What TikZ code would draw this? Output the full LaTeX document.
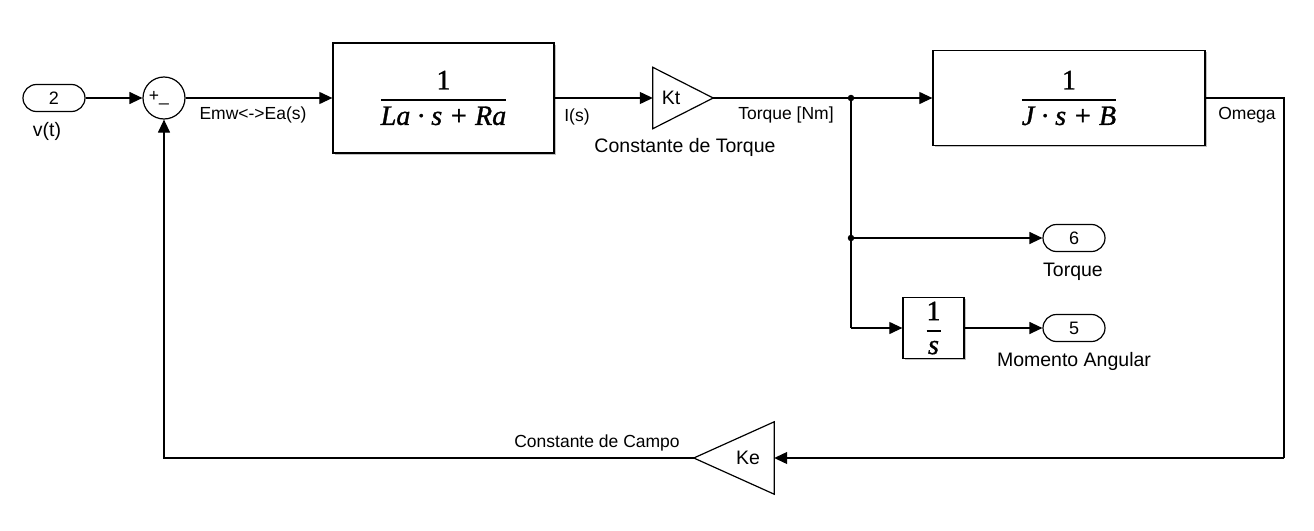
\documentclass[tikz,border=0pt]{standalone}
\usepackage{amsmath}
\usepackage{fontspec}
\setsansfont{Liberation Sans}
\newfontfamily\tfserif[FakeBold=1.2]{Liberation Serif}
\usetikzlibrary{arrows.meta,shapes.misc,shadows}
\newcommand\blkfrac[2]{$\genfrac{}{}{1.9pt}{0}{\text{\tfserif #1}}{\text{\tfserif\itshape #2}}$}
\begin{document}
\begin{tikzpicture}[x=1pt,y=-1pt,
  wire/.style={line width=1.2pt},
  arr/.style={wire,-{Triangle[length=13pt,width=12pt]}},
  blk/.style={draw,fill=white,line width=1.3pt,inner sep=0pt,font=\fontsize{28}{32}\selectfont,
    drop shadow={shadow xshift=1.8pt,shadow yshift=-1.8pt,opacity=0.35,fill=black!70}},
  port/.style={draw,fill=white,rounded rectangle,line width=1.2pt,minimum width=62pt,minimum height=27pt,inner sep=0pt,font=\sffamily\fontsize{18}{20}\selectfont},
  bname/.style={font=\sffamily\fontsize{19.5}{22}\selectfont,inner sep=0pt},
  slabel/.style={font=\sffamily\fontsize{17.5}{20}\selectfont,inner sep=0pt},
  dot/.style={circle,fill=black,inner sep=0pt,minimum size=6.5pt},
  gainbox/.style={inner sep=0pt}
]
\useasboundingbox (0,0) rectangle (1314,530);

% blocks
\node[port] (in2) at (54,98) {2};
\node[bname] (vt) at (47,131) {v(t)};
\node[draw,circle,line width=1.2pt,minimum size=42pt,inner sep=0pt,fill=white] (sum) at (164,98) {};
\node[slabel] (plus) at (154,96) {+};
\node[slabel] (minus) at (164,103) {\_};

\node[blk,minimum width=221pt,minimum height=110pt] (tf1) at (443.5,98) {\blkfrac{1}{La · s + Ra}};

\node[gainbox,minimum width=60pt,minimum height=61pt] (kt) at (683,98) {};
\draw[line width=1.2pt,fill=white] (kt.north west) -- (kt.east) -- (kt.south west) -- cycle;
\node[bname] (kttxt) at (671,98) {Kt};

\node[blk,minimum width=272pt,minimum height=95pt] (tf2) at (1069,98) {\blkfrac{1}{J · s + B}};

\node[blk,minimum width=61pt,minimum height=61pt] (integ) at (933.5,328) {\blkfrac{1}{s}};
\node[port] (out6) at (1074,238) {6};
\node[port] (out5) at (1074,328) {5};

\node[gainbox,minimum width=80pt,minimum height=72pt] (ke) at (734,458) {};
\draw[line width=1.2pt,fill=white] (ke.north east) -- (ke.west) -- (ke.south east) -- cycle;
\node[bname] (ketxt) at (748,458) {Ke};

% routing points
\coordinate (j1) at (851,98);
\coordinate (j2) at (851,238);
\coordinate (c3) at (851,328);
\coordinate (om1) at (1284,98);
\coordinate (om2) at (1284,458);
\coordinate (fb) at (164,458);

% connectors
\draw[arr] (in2.east) -- (sum.west);
\draw[arr] (sum.east) -- (tf1.west);
\draw[arr] (tf1.east) -- (kt.west);
\draw[wire] (kt.east) -- (j1);
\draw[arr] (j1) -- (tf2.west);
\draw[wire] (tf2.east) -- (om1) -- (om2);
\draw[arr] (om2) -- (ke.east);
\draw[arr] (ke.west) -- (fb) -- (sum.south);
\draw[wire] (j1) -- (c3);
\draw[arr] (j2) -- (out6.west);
\draw[arr] (c3) -- (integ.west);
\draw[arr] (integ.east) -- (out5.west);
\node[dot] at (j1) {};
\node[dot] at (j2) {};

% labels
\node[slabel] (emw) at (253,115) {Emw<->Ea(s)};
\node[slabel] (is) at (577,117) {I(s)};
\node[bname] (ctq) at (685,147) {Constante de Torque};
\node[slabel] (tnm) at (786,115) {Torque [Nm]};
\node[slabel] (om) at (1247,115) {Omega};
\node[bname] (tq) at (1073,272) {Torque};
\node[bname] (ma) at (1074,361) {Momento Angular};
\node[slabel] (ccampo) at (597,443) {Constante de Campo};
\end{tikzpicture}
\end{document}
